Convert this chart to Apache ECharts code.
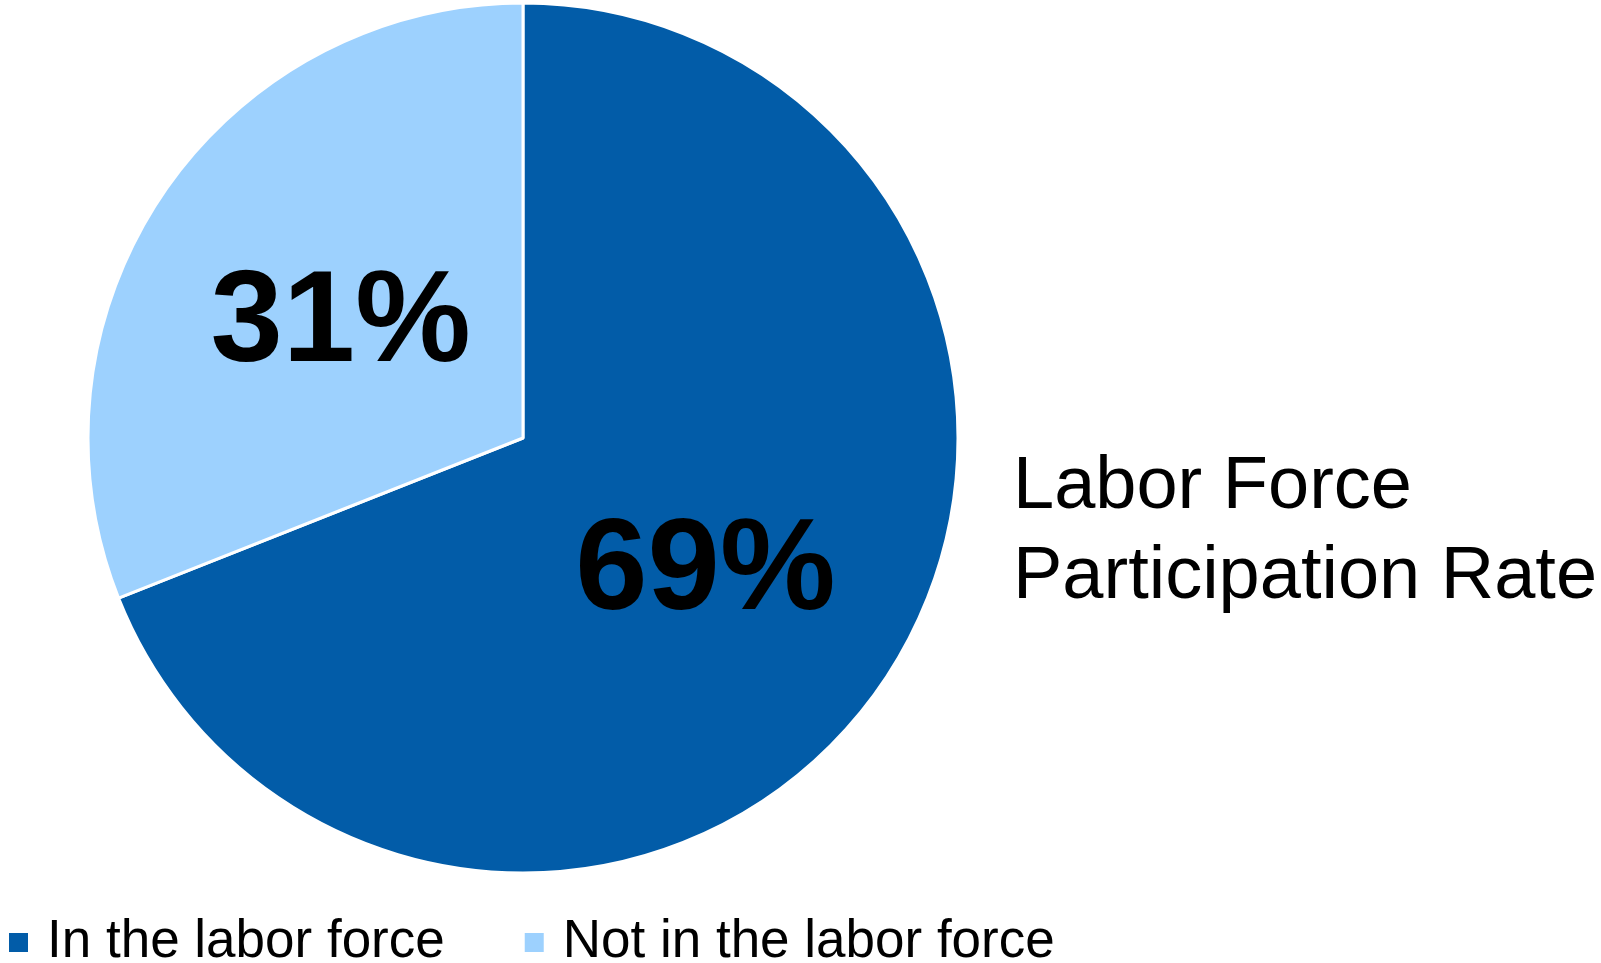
<!DOCTYPE html>
<html>
<head>
<meta charset="utf-8">
<script src="https://cdn.jsdelivr.net/npm/echarts@6/dist/echarts.min.js"></script>
<style>html,body{margin:0;padding:0;background:#fff;}#c{width:1601px;height:963px;}</style>
</head>
<body>
<div id="c"></div>
<script>
const categories = ['In the labor force', 'Not in the labor force'];
const values = [69, 31];
const colors = ['#025CA8', '#9DD1FE'];
const titleText = 'Labor Force\nParticipation Rate';

const chart = echarts.init(document.getElementById('c'), null, {renderer: 'canvas'});
chart.setOption({
  animation: false,
  backgroundColor: '#ffffff',
  title: {
    text: titleText,
    left: 1013,
    top: 443,
    padding: 0,
    textStyle: {fontFamily: 'Liberation Sans, Arial', fontWeight: 'normal', fontSize: 74, lineHeight: 90, color: '#000'}
  },
  legend: {
    data: categories,
    left: 7,
    top: 916,
    padding: 0,
    icon: 'rect',
    itemWidth: 21,
    itemHeight: 21,
    itemGap: 78,
    textStyle: {fontFamily: 'Liberation Sans, Arial', fontSize: 53, color: '#000', padding: [0, 0, 0, 13]}
  },
  series: [{
    type: 'pie',
    center: [523, 438],
    radius: [0, 435],
    startAngle: 90,
    clockwise: true,
    silent: true,
    itemStyle: {borderColor: '#fff', borderWidth: 3},
    label: {
      show: true,
      position: 'inside',
      formatter: '{c}%',
      fontFamily: 'Liberation Sans, Arial',
      fontWeight: 'bold',
      fontSize: 130,
      color: '#000',
      offset: [0, 11]
    },
    labelLine: {show: false},
    data: categories.map((n, i) => ({name: n, value: values[i], itemStyle: {color: colors[i]}}))
  }]
});
</script>
</body>
</html>
